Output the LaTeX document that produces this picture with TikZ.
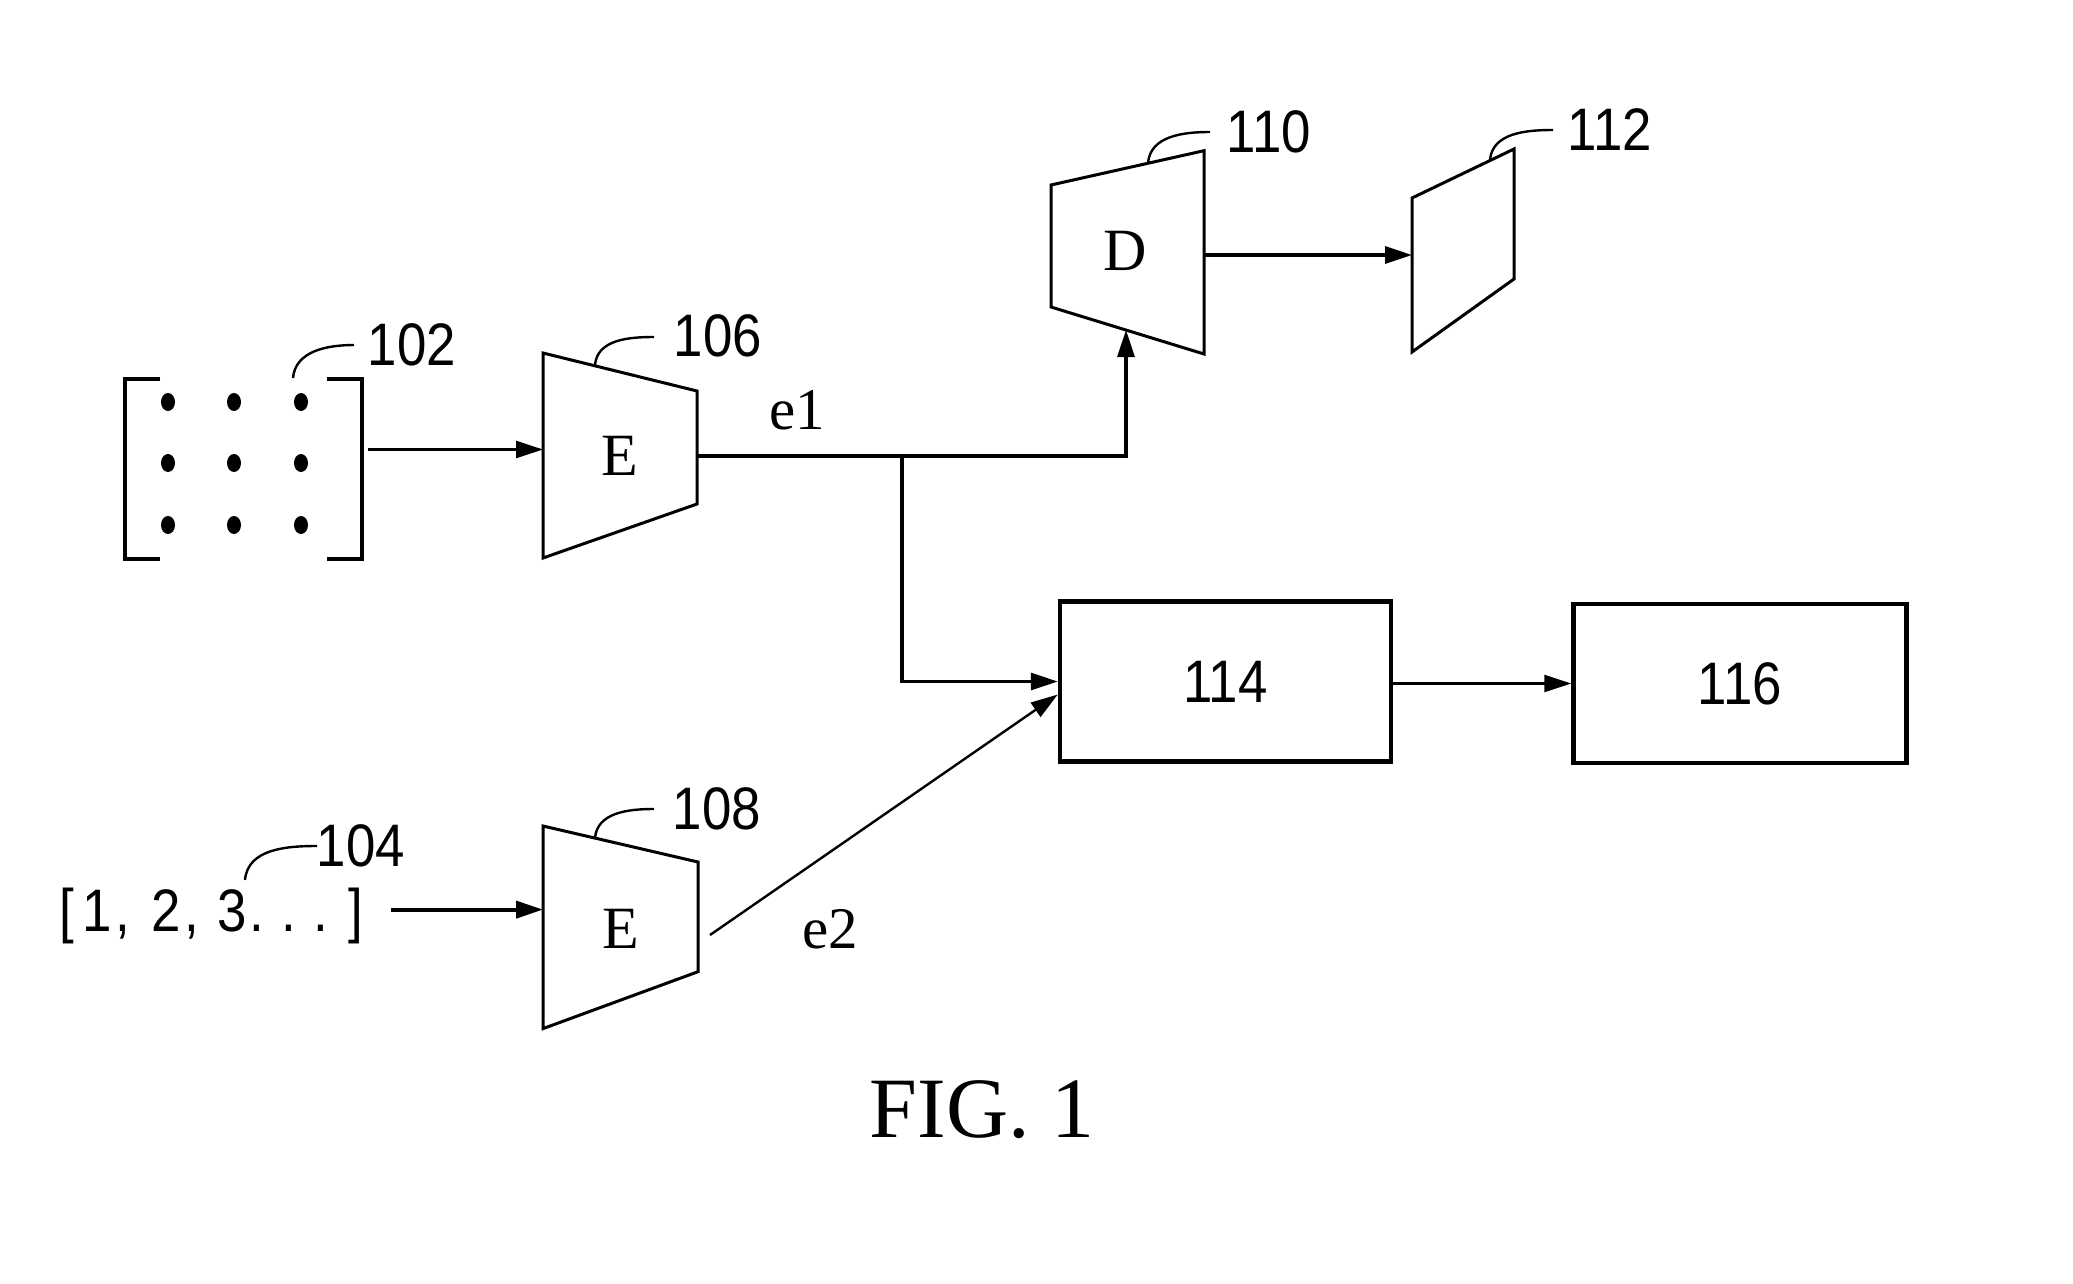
\documentclass[tikz,border=0pt]{standalone}
\usepackage{fontspec}
\setmainfont{Liberation Serif}
\newfontfamily\numfont[FakeStretch=0.88]{Liberation Sans}
\usetikzlibrary{arrows.meta,calc}
\begin{document}
\begin{tikzpicture}[x=1pt,y=-1pt,
  num/.style={font=\numfont\fontsize{60}{66}\selectfont, inner sep=0pt},
  lbl/.style={font=\fontsize{60}{66}\selectfont, inner sep=0pt},
  elbl/.style={font=\fontsize{59}{64}\selectfont, inner sep=0pt},
  blk/.style={line width=3pt, line join=miter},
  boxx/.style={draw, line width=4.5pt, inner sep=0pt, font=\numfont\fontsize{60}{66}\selectfont},
  conn/.style={line width=3.2pt},
  thin/.style={line width=2.4pt},
  tip/.style={-{Triangle[length=27pt,width=17pt]}},
  lead/.style={line width=2.4pt},
  ghost/.style={inner sep=0pt, draw=none}
]
\useasboundingbox (0,0) rectangle (2073,1283);

% ---- input matrix 102 ----
\node[ghost, minimum width=236pt, minimum height=180pt] (m102) at (243.5,469) {};
\draw[line width=4pt] ([xshift=35pt]m102.north west) -- (m102.north west) -- (m102.south west) -- ([xshift=35pt]m102.south west);
\draw[line width=4pt] ([xshift=-35pt]m102.north east) -- (m102.north east) -- (m102.south east) -- ([xshift=-35pt]m102.south east);
\foreach \xx in {168,234,301}{
  \foreach \yy in {402,463,525}{
    \fill (\xx,\yy) ellipse [x radius=7, y radius=9];
  }
}
\node[num] (n102) at (412,345) {102};
\draw[lead] (293,378) to[out=85,in=180] (354,345);

% ---- encoder E1 ----
\node[lbl, minimum width=154pt, minimum height=205pt] (E1) at (620,456) {E};
\draw[blk] (543,353) -- (697,391) -- (697,504) -- (543,558) -- cycle;
\coordinate (E1in) at (543,449.5);
\coordinate (E1out) at (697,456);
\node[num] (n106) at (718,336) {106};
\draw[lead] (595,365) to[out=85,in=180] (654,337);
\draw[thin,tip] ([xshift=6pt]m102.east |- E1in) -- (E1in);

% ---- decoder D ----
\node[lbl, minimum width=153pt, minimum height=200pt] (D) at (1125,251) {D};
\draw[blk] (1051,185) -- (1204,150.7) -- (1204,354) -- (1051,307) -- cycle;
\coordinate (Din) at (1126,330);
\coordinate (Dout) at (1204,255);
\node[num] (n110) at (1269,132) {110};
\draw[lead] (1148,163) to[out=85,in=180] (1210,132);

% ---- output 112 ----
\node[ghost, minimum width=102pt, minimum height=200pt] (o112) at (1463,250) {};
\draw[blk] (1412,198) -- (1514,149) -- (1514,279) -- (1412,352) -- cycle;
\coordinate (o112in) at (1412,255);
\node[num] (n112) at (1610,130) {112};
\draw[lead] (1490,160) to[out=85,in=180] (1553,130);
\draw[conn,tip] (Dout) -- (o112in);

% ---- e1 connectors ----
\coordinate (J) at (902,456);
\draw[conn,tip] (E1out) -| (Din);
\node[elbl] (e1) at (797,410) {e1};

% ---- boxes ----
\node[boxx, minimum width=331pt, minimum height=160pt] (B114) at (1225.5,681.5) {114};
\node[boxx, minimum width=333pt, minimum height=159pt] (B116) at (1740,683.5) {116};
\draw[conn,tip] (J) |- (B114.west);
\draw[thin,tip] (B114.east |- B116.west) -- (B116.west);

% ---- lower branch ----
\node[num, anchor=base west] (v104) at (59,931) {[\hspace{9pt}1\hspace{3pt},\hspace{22pt}2\hspace{3pt},\hspace{19pt}3\hspace{2pt}.\hspace{18pt}.\hspace{17pt}.\hspace{20pt}]};
\node[num] (n104) at (361,846) {104};
\draw[lead] (245,880) to[out=85,in=180] (317,846);

\node[lbl, minimum width=155pt, minimum height=203pt] (E2) at (621,929) {E};
\draw[blk] (543,826) -- (698,862) -- (698,971.7) -- (543,1028.6) -- cycle;
\coordinate (E2in) at (543,909.6);
\coordinate (E2out) at (710,935);
\coordinate (a104) at (391,909.6);
\node[num] (n108) at (717,809) {108};
\draw[lead] (595,838) to[out=85,in=180] (654,809);
\draw[line width=4pt,tip] (a104) -- (E2in);
\draw[thin,tip] (E2out) -- ([yshift=-13pt]B114.west);
\node[elbl] (e2) at (830,929) {e2};

% ---- caption ----
\node[font=\fontsize{86}{92}\selectfont, inner sep=0pt] (fig) at (982,1110) {FIG. 1};
\end{tikzpicture}
\end{document}
